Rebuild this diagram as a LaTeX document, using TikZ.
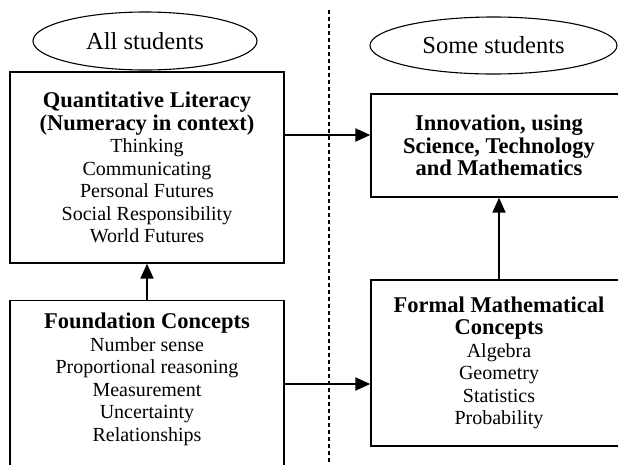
\documentclass[tikz,border=0pt]{standalone}
\usepackage{fontspec}
\setmainfont{Liberation Serif}
\usepackage{tikz}
\usetikzlibrary{arrows.meta, positioning, shapes.geometric}
\newcommand{\headfont}{\fontsize{22.5}{23.5}\selectfont\bfseries}
\newcommand{\itemfont}{\fontsize{20}{22.5}\selectfont\mdseries}

\begin{document}
\begin{tikzpicture}[
    x=1pt, y=-1pt,
    box/.style={draw, line width=1.3pt, rectangle, inner sep=0pt, align=center, font=\itemfont},
    label/.style={draw, ellipse, line width=1.1pt, inner sep=0pt, font=\fontsize{24.5}{26}\selectfont},
    listtext/.style={align=center, inner sep=0pt, font=\itemfont},
    arrow/.style={-{Triangle[length=15pt, width=13pt]}, line width=2pt},
    divider/.style={line width=1.6pt, dash pattern=on 4pt off 3pt},
]
    \useasboundingbox (0, 0) rectangle (618, 464);
    \clip (0, 0) rectangle (618, 464);

    % Groups
    \node[label, minimum width=224pt, minimum height=58pt] (all) at (145, 41) {All students};
    \node[label, minimum width=247pt, minimum height=57pt] (some) at (493.5, 45.5) {Some students};
    \coordinate (divtop) at (329, 10);
    \coordinate (divbot) at (329, 470);
    \draw[divider] (divtop) -- (divbot);

    % Boxes
    \node[box, minimum width=274pt, minimum height=191pt] (ql) at (147, 167.5) {\headfont Quantitative Literacy\\ \headfont (Numeracy in context)\\ \itemfont Thinking\\ Communicating\\ Personal Futures\\ Social Responsibility\\ World Futures};

    \node[box, minimum width=274pt, minimum height=200pt, anchor=north] (found) at (147, 300) {};
    \node[listtext, below=13pt of found.north] (foundtext) {\headfont Foundation Concepts\\ \itemfont Number sense\\ Proportional reasoning\\ Measurement\\ Uncertainty\\ Relationships};

    \node[box, minimum width=256pt, minimum height=103pt] (innov) at (499, 145.5) {\headfont Innovation, using\\ \headfont Science, Technology\\ \headfont and Mathematics};

    \node[box, minimum width=256pt, minimum height=166pt] (fmc) at (499, 363) {\headfont Formal Mathematical\\ \headfont Concepts\\ \itemfont Algebra\\ Geometry\\ Statistics\\ Probability};

    % Arrows
    \coordinate (innovin) at ([yshift=10.5pt]innov.west);
    \coordinate (fmcin) at ([yshift=-21pt]fmc.west);
    \draw[arrow] (found.north) -- (ql.south);
    \draw[arrow] (fmc.north) -- (innov.south);
    \draw[arrow] (ql.east |- innovin) -- (innovin);
    \draw[arrow] (found.east |- fmcin) -- (fmcin);
\end{tikzpicture}
\end{document}
